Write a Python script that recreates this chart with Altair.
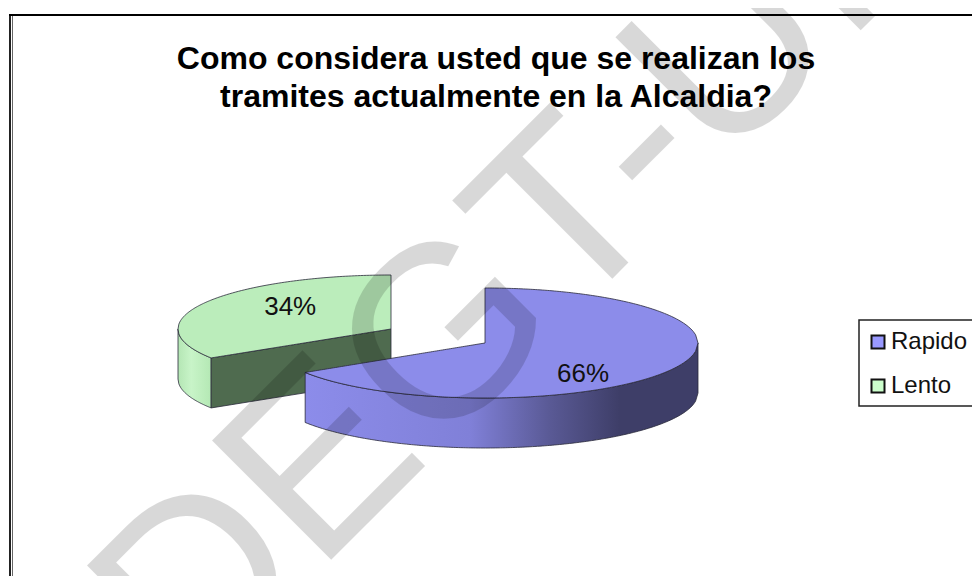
import math
import numpy as np
import pandas as pd
import altair as alt

CATEGORIES = ["Rapido", "Lento"]
PERCENTS = [66, 34]
LEGEND_COLORS = ["#9999FF", "#CCFFCC"]
TITLE_LINES = ["Como considera usted que se realizan los",
               "tramites actualmente en la Alcaldia?"]
WATERMARK = "DEGT-UNAN"

FONT = "Liberation Sans"
RX, DEPTH = 213.0, 50.0
BLUE_C = (485.0, 343.0, 55.0)    # cx, cy, ry in page pixels
GREEN_C = (391.0, 329.0, 54.0)
TOP_BLUE, TOP_GREEN = "#8C8CEA", "#BBEDBB"
EDGE = "#2a2a3a"

split = math.radians(PERCENTS[0] * 3.6)

xs = alt.Scale(domain=[8, 972], nice=False, zero=False)
ys = alt.Scale(domain=[576, 8], nice=False, zero=False)
X = alt.X("x:Q", scale=xs, axis=None)
Y = alt.Y("y:Q", scale=ys, axis=None)
Y2 = alt.Y2("y2:Q")


def ell(c, sign, x):
    cx, cy, ry = c
    u = np.clip((x - cx) / RX, -1, 1)
    return cy + sign * ry * np.sqrt(1 - u * u)


def grid(a, b, n=90):
    return list(np.linspace(a, b, n))


def area(rows, fill, order=None):
    df = pd.DataFrame(rows, columns=["x", "y", "y2"])
    return alt.Chart(df).mark_area(fill=fill, stroke=EDGE, strokeWidth=0.8).encode(x=X, y=Y, y2=Y2)


def hgrad(stops):
    return alt.Gradient(
        gradient="linear", x1=0, x2=1, y1=0, y2=0,
        stops=[alt.GradientStop(offset=o, color=c) for o, c in stops],
    )


# --- blue slice (first share, clockwise from 12 o'clock)
bx, by, bry = BLUE_C
b_end = (bx + RX * math.sin(split), by - bry * math.cos(split))
blue_top = []
for x in grid(b_end[0], bx):
    t = (x - b_end[0]) / (bx - b_end[0])
    blue_top.append((x, b_end[1] + t * (by - b_end[1]), ell(BLUE_C, 1, x)))
for x in grid(bx + 0.01, bx + RX):
    blue_top.append((x, ell(BLUE_C, -1, x), ell(BLUE_C, 1, x)))
blue_wall = [(x, ell(BLUE_C, 1, x), ell(BLUE_C, 1, x) + DEPTH) for x in grid(b_end[0], bx + RX, 160)]

# --- green slice (second share, pulled apart)
gx, gy, gry = GREEN_C
g_end = (gx + RX * math.sin(split), gy - gry * math.cos(split))
green_top = []
for x in grid(gx - RX, g_end[0], 40):
    green_top.append((x, ell(GREEN_C, -1, x), ell(GREEN_C, 1, x)))
for x in grid(g_end[0] + 0.01, gx, 60):
    t = (x - g_end[0]) / (gx - g_end[0])
    green_top.append((x, ell(GREEN_C, -1, x), g_end[1] + t * (gy - g_end[1])))
green_outer = [(x, ell(GREEN_C, 1, x), ell(GREEN_C, 1, x) + DEPTH) for x in grid(gx - RX, g_end[0], 40)]
green_cut = []
for x in grid(g_end[0], gx, 10):
    t = (x - g_end[0]) / (gx - g_end[0])
    yy = g_end[1] + t * (gy - g_end[1])
    green_cut.append((x, yy, yy + DEPTH))

layers = [
    area(green_outer, hgrad([(0, "#B4E6B4"), (0.4, "#C8F4C8"), (1, "#B4E8B4")])),
    area(green_cut, "#4F6B4F"),
    area(green_top, TOP_GREEN),
    area(blue_wall, hgrad([(0, "#8C8CEA"), (0.42, "#8080D8"), (0.62, "#5A5A96"), (0.8, "#3E3E68"), (1, "#3E3E68")])),
    area(blue_top, TOP_BLUE),
]

# --- percent labels
mid_b = split / 2
mid_g = split + (2 * math.pi - split) / 2
lab = pd.DataFrame({
    "x": [bx + 0.525 * RX * math.sin(mid_b), gx + 0.54 * RX * math.sin(mid_g)],
    "y": [by - 0.525 * bry * math.cos(mid_b) + 17, gy - 0.54 * gry * math.cos(mid_g) - 8],
    "t": [f"{p}%" for p in PERCENTS],
})
layers.append(
    alt.Chart(lab).mark_text(font=FONT, fontSize=26, color="#111", baseline="middle", align="center")
    .encode(x=X, y=Y, text="t:N")
)

# --- title
ttl = pd.DataFrame({"x": [496, 496], "y": [69, 107], "t": TITLE_LINES})
layers.append(
    alt.Chart(ttl).mark_text(font=FONT, fontSize=32, fontWeight="bold", color="#000",
                             baseline="alphabetic", align="center")
    .encode(x=X, y=Y, text="t:N")
)

# --- legend box, open past the page edge
layers.append(
    alt.Chart().mark_rect(fill="white", stroke="#222", strokeWidth=1.5).encode(
        x=alt.value(851), x2=alt.value(985), y=alt.value(312), y2=alt.value(398)
    )
)

# --- legend carrier
leg = pd.DataFrame({"x": [500, 500], "y": [300, 300], "c": CATEGORIES})
layers.append(
    alt.Chart(leg).mark_point(filled=True, size=0, opacity=0).encode(
        x=X, y=Y,
        color=alt.Color(
            "c:N",
            scale=alt.Scale(domain=CATEGORIES, range=LEGEND_COLORS),
            legend=alt.Legend(
                title=None, orient="none", legendX=851, legendY=312,
                padding=10,
                symbolType="square", symbolSize=169, symbolStrokeWidth=2,
                symbolStrokeColor="#111", symbolOpacity=1, symbolOffset=-3,
                labelFont=FONT, labelFontSize=24, labelColor="#111",
                rowPadding=20, labelOffset=1,
            ),
        ),
    )
)

# --- watermark
wm = pd.DataFrame({"x": [192], "y": [699], "t": [WATERMARK]})
layers.append(
    alt.Chart(wm).mark_text(
        font=FONT, fontSize=245, angle=315, align="left", baseline="alphabetic",
        color="#000", opacity=0.15,
    ).encode(x=X, y=Y, text="t:N")
)

# --- outer frame
frame = [
    alt.Chart().mark_rule(color="#222", strokeWidth=2).encode(x=alt.value(2), y=alt.value(6), y2=alt.value(568)),
    alt.Chart().mark_rule(color="#666", strokeWidth=1).encode(x=alt.value(4.5), y=alt.value(6), y2=alt.value(568)),
    alt.Chart().mark_rule(color="#000", strokeWidth=2).encode(y=alt.value(7), x=alt.value(1), x2=alt.value(964)),
]

chart = (
    alt.layer(*layers, *frame)
    .properties(
        width=964, height=568, padding=0,
        autosize=alt.AutoSizeParams(type="none"),
        background="white",
    )
    .configure_view(stroke=None)
)

chart.save("out.html", embed_options={"renderer": "svg", "actions": False})
